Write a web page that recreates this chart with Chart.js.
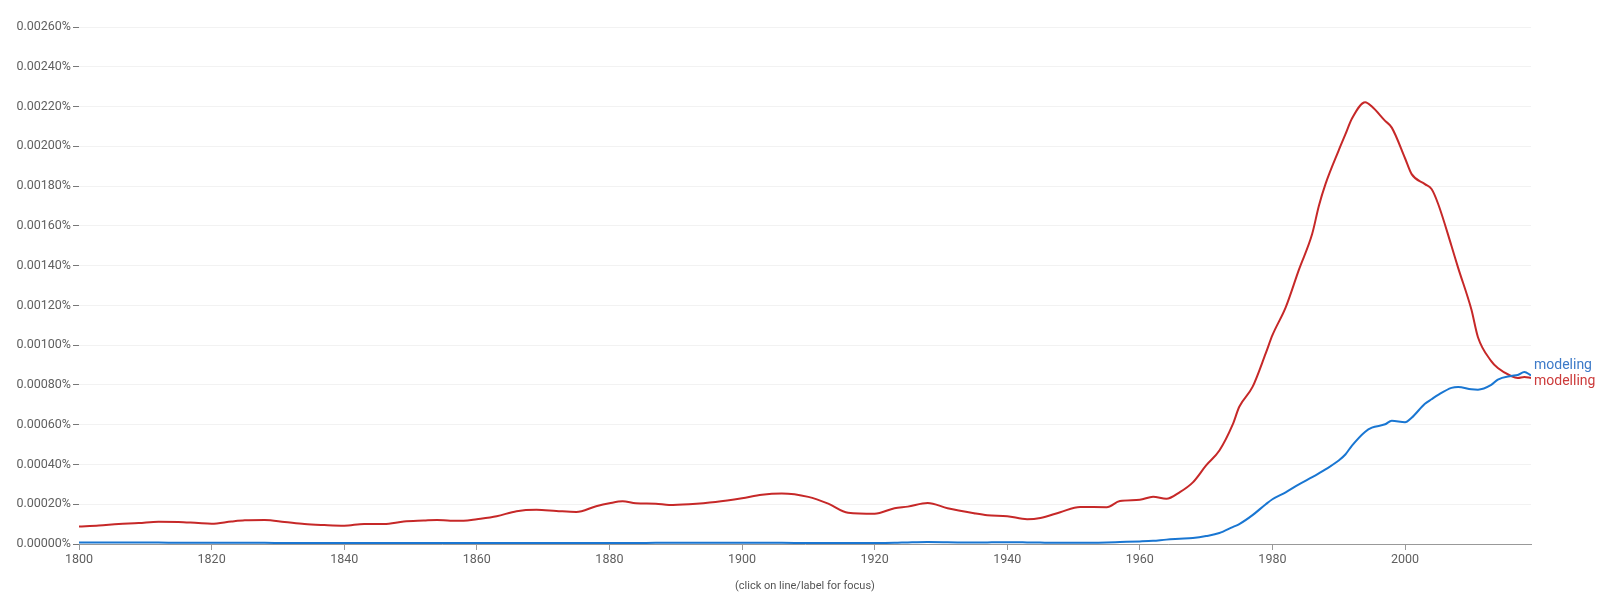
<!DOCTYPE html>
<html>
<head>
<meta charset="utf-8">
<script src="https://cdn.jsdelivr.net/npm/chart.js@4.4.0/dist/chart.umd.min.js"></script>
<style>
  html, body { margin: 0; padding: 0; background: #fff; }
  #wrap { width: 1624px; height: 593px; position: relative; }
</style>
</head>
<body>
<div id="wrap"><canvas id="ngram" width="1624" height="593"></canvas></div>
<script>
// years and values (percent)
const years = [
  1800, 1803, 1806, 1809, 1812, 1815, 1818, 1820, 1823, 1825, 1828, 1831, 1834, 1837, 1840,
  1843, 1846, 1849, 1852, 1854, 1856, 1858, 1860, 1863, 1866, 1869, 1872, 1875, 1878, 1880,
  1882, 1884, 1887, 1889, 1892, 1896, 1900, 1903, 1906, 1910, 1913, 1916, 1920, 1923, 1925,
  1928, 1931, 1935, 1937, 1940, 1943, 1945, 1948, 1951, 1955, 1957, 1960, 1962, 1964, 1966,
  1968, 1970, 1972, 1974, 1975, 1977, 1979, 1980, 1982, 1984, 1986, 1987, 1988, 1990, 1991,
  1992, 1994, 1995, 1997, 1998, 2000, 2001, 2003, 2004, 2005, 2007, 2008, 2010, 2011, 2013,
  2014, 2016, 2017, 2018, 2019
];

const modelling = [
  0.000088, 0.000093, 0.000100, 0.000105, 0.000112, 0.000111, 0.000105, 0.000102, 0.000113, 0.000119,
  0.000121, 0.000111, 0.000100, 0.000095, 0.000092, 0.000101, 0.000100, 0.000113, 0.000118, 0.000121,
  0.000117, 0.000117, 0.000125, 0.000140, 0.000165, 0.000172, 0.000166, 0.000161, 0.000190, 0.000205,
  0.000215, 0.000205, 0.000203, 0.000196, 0.000200, 0.000211, 0.000230, 0.000248, 0.000254, 0.000237,
  0.000203, 0.000157, 0.000152, 0.000180, 0.000188, 0.000206, 0.000180, 0.000155, 0.000145, 0.000140,
  0.000125, 0.000131, 0.000160, 0.000186, 0.000185, 0.000216, 0.000222, 0.000238, 0.000227, 0.000260,
  0.000310, 0.000395, 0.000470, 0.000600, 0.000690, 0.000790, 0.000960, 0.001050, 0.001190, 0.001380,
  0.001560, 0.001700, 0.001810, 0.001980, 0.002060, 0.002140, 0.002222, 0.002200, 0.002128, 0.002094,
  0.001940, 0.001860, 0.001810, 0.001785, 0.001710, 0.001500, 0.001390, 0.001180, 0.001040, 0.000920,
  0.000885, 0.000845, 0.000835, 0.000840, 0.000835
];

const modeling = [
  0.000008, 0.000008, 0.000007, 0.000007, 0.000007, 0.000006, 0.000006, 0.000006, 0.000006, 0.000006,
  0.000006, 0.000005, 0.000005, 0.000005, 0.000005, 0.000005, 0.000005, 0.000005, 0.000005, 0.000005,
  0.000005, 0.000005, 0.000005, 0.000005, 0.000005, 0.000005, 0.000005, 0.000005, 0.000005, 0.000005,
  0.000005, 0.000005, 0.000006, 0.000006, 0.000006, 0.000006, 0.000006, 0.000006, 0.000006, 0.000005,
  0.000005, 0.000005, 0.000005, 0.000006, 0.000008, 0.000010, 0.000009, 0.000007, 0.000008, 0.000009,
  0.000008, 0.000007, 0.000006, 0.000006, 0.000008, 0.000010, 0.000013, 0.000016, 0.000022, 0.000026,
  0.000030, 0.000040, 0.000055, 0.000085, 0.000100, 0.000145, 0.000200, 0.000225, 0.000260, 0.000300,
  0.000336, 0.000355, 0.000375, 0.000420, 0.000450, 0.000495, 0.000565, 0.000585, 0.000602, 0.000620,
  0.000612, 0.000635, 0.000705, 0.000728, 0.000750, 0.000785, 0.000790, 0.000778, 0.000776, 0.000800,
  0.000827, 0.000845, 0.000850, 0.000865, 0.000848
];

const seriesNames = ["modeling", "modelling"];
const seriesColors = ["#1976d2", "#c62828"];
const labelColors = ["#3d7ac8", "#cc3b3b"];
const yTicks = [0, 0.0002, 0.0004, 0.0006, 0.0008, 0.001, 0.0012, 0.0014, 0.0016, 0.0018, 0.002, 0.0022, 0.0024, 0.0026];

const toPoints = (vals) => vals.map((v, i) => ({ x: years[i], y: v }));

// end-of-line labels + footer note
const endLabels = {
  id: "endLabels",
  afterDatasetsDraw(chart) {
    const ctx = chart.ctx;
    const area = chart.chartArea;
    const items = chart.data.datasets.map((ds, i) => {
      const pts = chart.getDatasetMeta(i).data;
      const last = pts[pts.length - 1];
      return { text: ds.label, color: labelColors[i], x: last.x, y: last.y };
    });
    items.sort((a, b) => a.y - b.y);
    const gap = 16;
    const mid = (items[0].y + items[1].y) / 2 - 3;
    if (items[1].y - items[0].y < gap) {
      items[0].y = mid - gap / 2;
      items[1].y = mid + gap / 2;
    }
    ctx.save();
    ctx.font = "14px Roboto";
    ctx.textBaseline = "middle";
    ctx.textAlign = "left";
    items.forEach((it) => {
      ctx.fillStyle = it.color;
      ctx.fillText(it.text, it.x + 3, it.y);
    });
    ctx.font = "11px Roboto";
    ctx.fillStyle = "#555";
    ctx.textAlign = "center";
    ctx.fillText("(click on line/label for focus)", (area.left + area.right) / 2, 586);
    ctx.restore();
  }
};

const ctx = document.getElementById("ngram").getContext("2d");
new Chart(ctx, {
  type: "line",
  data: {
    datasets: [
      {
        label: seriesNames[0],
        data: toPoints(modeling),
        borderColor: seriesColors[0],
        borderWidth: 2,
        pointRadius: 0,
        cubicInterpolationMode: "monotone",
        fill: false
      },
      {
        label: seriesNames[1],
        data: toPoints(modelling),
        borderColor: seriesColors[1],
        borderWidth: 2,
        pointRadius: 0,
        cubicInterpolationMode: "monotone",
        fill: false
      }
    ]
  },
  options: {
    responsive: false,
    animation: false,
    layout: {
      padding: { left: 0, right: 93, top: 27, bottom: 24 }
    },
    plugins: {
      legend: { display: false },
      tooltip: { enabled: false }
    },
    scales: {
      x: {
        type: "linear",
        min: 1800,
        max: 2019,
        afterBuildTicks: (axis) => {
          axis.ticks = axis.ticks.filter((t) => t.value % 20 === 0);
        },
        ticks: {
          stepSize: 20,
          autoSkip: false,
          maxRotation: 0,
          padding: 2,
          color: "#5f5f5f",
          font: { family: "Roboto", size: 12.5 },
          callback: (value) => String(value)
        },
        grid: {
          drawOnChartArea: false,
          drawTicks: true,
          tickLength: 6,
          tickColor: "#999"
        },
        border: { display: true, color: "#999", width: 1 }
      },
      y: {
        min: 0,
        max: 0.0026,
        afterBuildTicks: (axis) => {
          axis.ticks = yTicks.map((v) => ({ value: v }));
        },
        afterFit: (axis) => {
          axis.width = 79;
        },
        ticks: {
          padding: 2,
          color: "#5f5f5f",
          font: { family: "Roboto", size: 12.5 },
          callback: (value) => value.toFixed(5) + "%"
        },
        grid: {
          color: "#f2f2f2",
          tickColor: "#777",
          tickLength: 6,
          lineWidth: 1
        },
        border: { display: false }
      }
    }
  },
  plugins: [endLabels]
});
</script>
</body>
</html>
